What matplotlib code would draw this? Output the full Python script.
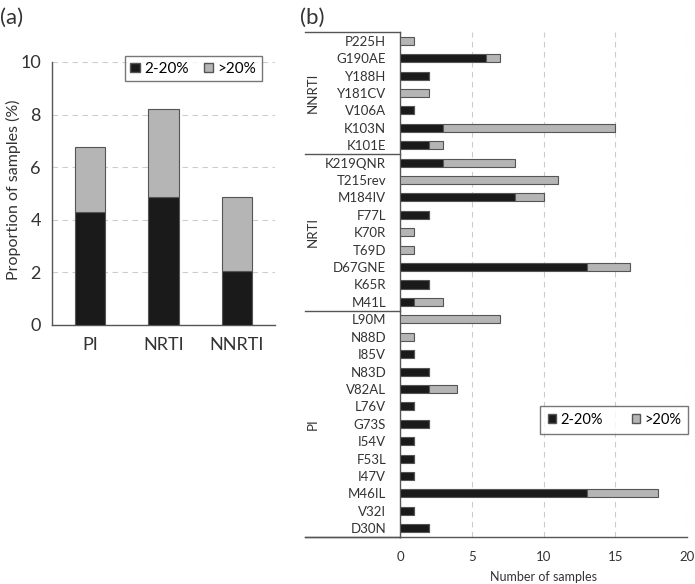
import matplotlib
matplotlib.use("Agg")
import matplotlib.pyplot as plt
from matplotlib.patches import Patch
import matplotlib.transforms as mtransforms
import numpy as np

plt.rcParams['font.family'] = ['Lato', 'DejaVu Sans']

# Panel (a) data
classes = ["PI", "NRTI", "NNRTI"]
prop_low = [4.3, 4.85, 2.05]
prop_high = [2.45, 3.35, 2.8]

# Panel (b) data (top to bottom)
mutations = ["P225H", "G190AE", "Y188H", "Y181CV", "V106A", "K103N", "K101E",
             "K219QNR", "T215rev", "M184IV", "F77L", "K70R", "T69D", "D67GNE", "K65R", "M41L",
             "L90M", "N88D", "I85V", "N83D", "V82AL", "L76V", "G73S", "I54V", "F53L", "I47V",
             "M46IL", "V32I", "D30N"]
count_low = [0, 6, 2, 0, 1, 3, 2,
             3, 0, 8, 2, 0, 0, 13, 2, 1,
             0, 0, 1, 2, 2, 1, 2, 1, 1, 1, 13, 1, 2]
count_high = [1, 1, 0, 2, 0, 12, 1,
              5, 11, 2, 0, 1, 1, 3, 0, 2,
              7, 1, 0, 0, 2, 0, 0, 0, 0, 0, 5, 0, 0]
groups = ["NNRTI", "NRTI", "PI"]
group_sizes = [7, 9, 13]

BLACK = "#1a1a1a"
GRAY = "#b5b5b5"
EDGE = "#555555"
GRID = "#cccccc"
TXT = "#333333"

fig = plt.figure(figsize=(6.95, 5.84), dpi=100)

# ---------------- Panel (a) ----------------
axa = fig.add_axes([52/695, 1-325/584, 223/695, 263/584])
xa = np.arange(len(classes))
axa.bar(xa, prop_low, width=0.41, color=BLACK, edgecolor=EDGE, linewidth=0.8, label="2-20%", zorder=3)
axa.bar(xa, prop_high, width=0.41, bottom=prop_low, color=GRAY, edgecolor=EDGE, linewidth=0.8, label=">20%", zorder=3)
axa.set_xlim(-0.52, 2.52)
axa.set_ylim(0, 10)
axa.set_yticks([0, 2, 4, 6, 8, 10])
axa.set_xticks(xa)
axa.set_xticklabels(classes)
axa.tick_params(axis='both', length=0, labelsize=13, colors=TXT, pad=8)
axa.tick_params(axis='x', pad=9)
axa.yaxis.grid(True, linestyle=(0, (5, 4)), color=GRID, linewidth=0.8, zorder=0)
for s in ["top", "right"]:
    axa.spines[s].set_visible(False)
for s in ["left", "bottom"]:
    axa.spines[s].set_color(EDGE)
    axa.spines[s].set_linewidth(1.0)
axa.set_ylabel("Proportion of samples (%)", fontsize=11.5, color=TXT, va="center")
axa.yaxis.set_label_coords((13-52)/223, (325-190)/263)
leg_a = axa.legend(handles=[Patch(facecolor=BLACK, edgecolor=EDGE), Patch(facecolor=GRAY, edgecolor=EDGE)],
                   labels=["2-20%", ">20%"], ncol=2, loc="upper right", bbox_to_anchor=(0.975, 1.05),
                   fontsize=11, frameon=True, fancybox=False, edgecolor=EDGE,
                   handlelength=0.6, handleheight=0.6, handletextpad=0.3, columnspacing=1.0,
                   borderpad=0.35)
leg_a.get_frame().set_linewidth(1.0)
fig.text(0.0, 1-18/584, "(a)", fontsize=16, va="center", ha="left", color=TXT)

# ---------------- Panel (b) ----------------
axb = fig.add_axes([400/695, 1-537/584, 287/695, 505/584])
yb = np.arange(len(mutations))
axb.barh(yb, count_low, height=0.46, color=BLACK, edgecolor=EDGE, linewidth=0.8, zorder=3)
axb.barh(yb, count_high, height=0.46, left=count_low, color=GRAY, edgecolor=EDGE, linewidth=0.8, zorder=3)
axb.set_ylim(len(mutations) - 0.5, -0.5)
axb.set_xlim(0, 20)
axb.set_xticks([0, 5, 10, 15, 20])
axb.set_yticks(yb)
axb.set_yticklabels(mutations)
axb.tick_params(axis='y', length=0, labelsize=9.5, colors=TXT, pad=10)
axb.tick_params(axis='x', length=0, labelsize=9.5, colors=TXT, pad=10)
axb.xaxis.grid(True, linestyle=(0, (5, 4)), color=GRID, linewidth=0.8, zorder=0)
for s in ["top", "right"]:
    axb.spines[s].set_visible(False)
for s in ["left", "bottom"]:
    axb.spines[s].set_color(EDGE)
    axb.spines[s].set_linewidth(1.0)
fig.text(544/695, 1-577/584, "Number of samples", fontsize=9, color=TXT, ha="center", va="center")

# group separators and labels outside axes
trans = mtransforms.blended_transform_factory(axb.transAxes, axb.transData)
x_out = -95/287
bounds = np.concatenate([[0], np.cumsum(group_sizes)]) - 0.5
for b in bounds:
    axb.plot([x_out, 0], [b, b], transform=trans, color=EDGE, lw=1.0, clip_on=False)
for g, lo, hi in zip(groups, bounds[:-1], bounds[1:]):
    axb.text(x_out + 8/287, (lo + hi) / 2, g, transform=trans, rotation=90, ha="center", va="center",
             fontsize=9.5, color=TXT)

legend_b = axb.legend(handles=[Patch(facecolor=BLACK, edgecolor=EDGE), Patch(facecolor=GRAY, edgecolor=EDGE)],
                      labels=["2-20%", ">20%"], ncol=2, loc="center right", bbox_to_anchor=(1.005, 1-(420-32)/505),
                      fontsize=10.5, frameon=True, fancybox=False, edgecolor=EDGE,
                      handlelength=0.6, handleheight=0.6, handletextpad=0.25, columnspacing=2.0,
                      borderpad=0.5, borderaxespad=0.0)
legend_b.get_frame().set_linewidth(1.0)
# extend bottom spine to the left
axb.plot([x_out, 0], [len(mutations) - 0.5] * 2, transform=trans, color=EDGE, lw=1.0, clip_on=False)

fig.text(300/695, 1-18/584, "(b)", fontsize=16, va="center", ha="left", color=TXT)

fig.savefig("out.png", dpi=100)
